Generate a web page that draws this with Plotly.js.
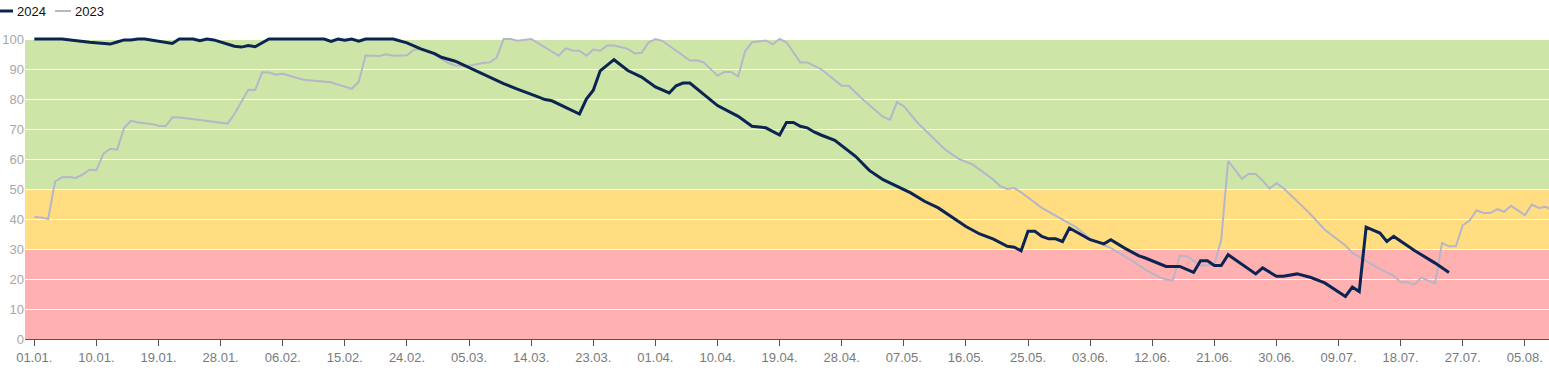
<!DOCTYPE html>
<html>
<head>
<meta charset="utf-8">
<script src="https://cdn.plot.ly/plotly-3.0.1.min.js"></script>
<style>
html,body{margin:0;padding:0;background:#fff;}
#chart{width:1549px;height:370px;}
</style>
</head>
<body>
<div id="chart"></div>
<script>
// Day-of-year axis uses a common (non-leap) year; only day.month. is shown.
// Series 2024
const dates2024 = [
'2023-01-01','2023-01-05','2023-01-09','2023-01-12','2023-01-13','2023-01-14','2023-01-15','2023-01-16','2023-01-17','2023-01-21',
'2023-01-22','2023-01-24','2023-01-25','2023-01-26','2023-01-27','2023-01-30','2023-01-31','2023-02-01','2023-02-02','2023-02-04',
'2023-02-12','2023-02-13','2023-02-14','2023-02-15','2023-02-16','2023-02-17','2023-02-18','2023-02-22','2023-02-24','2023-02-26',
'2023-02-28','2023-03-01','2023-03-03','2023-03-05','2023-03-07','2023-03-09','2023-03-10','2023-03-12','2023-03-14','2023-03-15',
'2023-03-16','2023-03-17','2023-03-21','2023-03-22','2023-03-23','2023-03-24','2023-03-26','2023-03-28','2023-03-30','2023-04-01',
'2023-04-03','2023-04-04','2023-04-05','2023-04-06','2023-04-10','2023-04-13','2023-04-15','2023-04-17','2023-04-19','2023-04-20',
'2023-04-21','2023-04-22','2023-04-23','2023-04-24','2023-04-25','2023-04-27','2023-04-30','2023-05-02','2023-05-04','2023-05-07',
'2023-05-08','2023-05-10','2023-05-12','2023-05-16','2023-05-18','2023-05-20','2023-05-22','2023-05-23','2023-05-24','2023-05-25',
'2023-05-26','2023-05-27','2023-05-28','2023-05-29','2023-05-30','2023-05-31','2023-06-01','2023-06-03','2023-06-05','2023-06-06',
'2023-06-08','2023-06-10','2023-06-11','2023-06-13','2023-06-14','2023-06-16','2023-06-18','2023-06-19','2023-06-20','2023-06-21',
'2023-06-22','2023-06-23','2023-06-27','2023-06-28','2023-06-30','2023-07-01','2023-07-03','2023-07-05','2023-07-07','2023-07-10',
'2023-07-11','2023-07-12','2023-07-13','2023-07-15','2023-07-16','2023-07-17','2023-07-20','2023-07-23','2023-07-25'
];
const values2024 = [
100,100,98.9,98.3,99,99.7,99.7,100,100,98.5,
100,100,99.4,100,99.7,97.6,97.3,97.8,97.4,100,
100,99.2,100,99.6,100,99.3,100,100,98.7,96.7,
95.1,93.9,92.6,90.5,88.5,86.4,85.1,83.3,81.4,80.7,
79.8,79.4,75,80,82.9,89.4,93.1,89.5,87.3,84,
82,84.4,85.3,85.3,77.8,74.2,70.9,70.4,68,72.2,
72.2,70.9,70.4,69,68,66.2,60.9,56.2,53.1,50,
48.7,45.9,43.7,37.5,35,33.3,30.9,30.6,29.4,35.9,
35.9,34.2,33.4,33.4,32.5,37,35.7,33.1,31.7,33.1,
30.3,27.8,27,25.3,24.2,24.2,22.2,26.1,26.1,24.5,
24.5,28.1,21.7,23.7,20.9,20.9,21.7,20.5,18.7,14.2,
17.3,15.8,37.3,35.3,32.5,34.2,29.5,25.3,22.2
];

// Series 2023
const dates2023 = [
'2023-01-01','2023-01-02','2023-01-03','2023-01-04','2023-01-05','2023-01-06','2023-01-07','2023-01-08','2023-01-09','2023-01-10',
'2023-01-11','2023-01-12','2023-01-13','2023-01-14','2023-01-15','2023-01-16','2023-01-17','2023-01-18','2023-01-19','2023-01-20',
'2023-01-21','2023-01-22','2023-01-25','2023-01-27','2023-01-29','2023-01-30','2023-01-31','2023-02-01','2023-02-02','2023-02-03',
'2023-02-04','2023-02-05','2023-02-06','2023-02-07','2023-02-09','2023-02-11','2023-02-13','2023-02-14','2023-02-16','2023-02-17',
'2023-02-18','2023-02-20','2023-02-21','2023-02-22','2023-02-24','2023-02-25','2023-02-26','2023-02-28','2023-03-02','2023-03-03',
'2023-03-05','2023-03-07','2023-03-08','2023-03-09','2023-03-10','2023-03-11','2023-03-12','2023-03-14','2023-03-18','2023-03-19',
'2023-03-20','2023-03-21','2023-03-22','2023-03-23','2023-03-24','2023-03-25','2023-03-26','2023-03-28','2023-03-29','2023-03-30',
'2023-03-31','2023-04-01','2023-04-02','2023-04-06','2023-04-07','2023-04-08','2023-04-10','2023-04-11','2023-04-12','2023-04-13',
'2023-04-14','2023-04-15','2023-04-17','2023-04-18','2023-04-19','2023-04-20','2023-04-22','2023-04-23','2023-04-25','2023-04-28',
'2023-04-29','2023-05-01','2023-05-02','2023-05-04','2023-05-05','2023-05-06','2023-05-07','2023-05-09','2023-05-13','2023-05-15',
'2023-05-17','2023-05-20','2023-05-21','2023-05-22','2023-05-23','2023-05-24','2023-05-27','2023-06-01','2023-06-03','2023-06-06',
'2023-06-09','2023-06-11','2023-06-13','2023-06-14','2023-06-15','2023-06-16','2023-06-17','2023-06-18','2023-06-19','2023-06-21',
'2023-06-22','2023-06-23','2023-06-24','2023-06-25','2023-06-26','2023-06-27','2023-06-28','2023-06-29','2023-06-30','2023-07-01',
'2023-07-04','2023-07-05','2023-07-07','2023-07-09','2023-07-10','2023-07-11','2023-07-13','2023-07-15','2023-07-17','2023-07-18',
'2023-07-19','2023-07-20','2023-07-21','2023-07-22','2023-07-23','2023-07-24','2023-07-25','2023-07-26','2023-07-27','2023-07-28',
'2023-07-29','2023-07-30','2023-07-31','2023-08-01','2023-08-02','2023-08-03','2023-08-04','2023-08-05','2023-08-06','2023-08-07',
'2023-08-08','2023-08-09'
];
const values2023 = [
40.7,40.5,40,52.5,53.9,54,53.7,54.8,56.4,56.3,
61.8,63.4,63.1,70.3,72.8,72.2,71.9,71.7,71.1,70.9,
73.9,73.8,73,72.5,71.8,75,79,83.1,83,88.9,
88.8,88.1,88.4,87.7,86.4,86,85.6,84.8,83.4,85.7,
94.5,94.3,94.9,94.4,94.6,96.4,96.7,94.8,92,91.2,
91.1,92,92.2,93.8,100,100,99.4,100,94.4,96.9,
96.2,96.1,94.4,96.5,96.1,97.8,97.8,96.7,95.2,95.4,
98.8,100,99.4,92.8,92.9,92.2,87.8,89,89,87.5,
95.9,98.9,99.5,98.2,100,98.9,92.2,92.2,90,84.4,
84.4,80,78.1,74,73.1,78.9,77.6,72.1,63.1,60,
58.1,53.1,50.9,50,50.3,48.9,43.7,37.2,33.4,30.3,
26.2,23.1,20.6,19.8,19.5,27.8,27.6,25.9,24.5,24.7,
33.1,59.4,56.4,53.4,55.1,55,52.8,50.1,52,50.3,
43.7,41.4,36.4,32.8,31.2,28.7,26,23.3,21.1,18.9,
18.9,18.1,20.5,19.4,18.6,32,30.9,30.9,37.9,39.5,
42.9,42,42,43.3,42.4,44.4,42.9,41.2,44.8,43.7,
44.1,42.9
];

// Traffic-light bands
const bandLow = [0, 30, 50];
const bandHigh = [30, 50, 100];
const bandColors = ['#ffb0b0', '#ffdd80', '#cde6a8'];

const seriesNames = ['2024', '2023'];
const seriesColors = ['#0b2452', '#b6b6c9'];

const W = 1549, H = 370, ML = 25, MR = 0, MT = 36, MB = 31;
const PW = W - ML - MR, PH = H - MT - MB;
const px2x = p => (p - ML) / PW;
const px2y = p => (H - MB - p) / PH;

const shapes = bandLow.map((lo, i) => ({
  type: 'rect', xref: 'paper', yref: 'y', x0: 0, x1: 1, y0: lo, y1: bandHigh[i],
  fillcolor: bandColors[i], line: {width: 0}, layer: 'below'
}));

// compact legend
const legendY = px2y(11);
shapes.push({type:'line', xref:'paper', yref:'paper', x0: px2x(0), x1: px2x(13), y0: legendY, y1: legendY,
  line:{color: seriesColors[0], width: 3}});
shapes.push({type:'line', xref:'paper', yref:'paper', x0: px2x(55), x1: px2x(71), y0: legendY, y1: legendY,
  line:{color: seriesColors[1], width: 2}});
const annotations = [
  {xref:'paper', yref:'paper', x: px2x(15), y: legendY, xanchor:'left', yanchor:'middle', text: seriesNames[0],
   showarrow:false, font:{size:13, color:'#111'}},
  {xref:'paper', yref:'paper', x: px2x(73), y: legendY, xanchor:'left', yanchor:'middle', text: seriesNames[1],
   showarrow:false, font:{size:13, color:'#111'}}
];

const traces = [
  {x: dates2023, y: values2023, type:'scatter', mode:'lines', name: seriesNames[1],
   line:{color: seriesColors[1], width: 2}, hoverinfo:'skip'},
  {x: dates2024, y: values2024, type:'scatter', mode:'lines', name: seriesNames[0],
   line:{color: seriesColors[0], width: 3}, hoverinfo:'skip'}
];

const layout = {
  width: W, height: H,
  margin: {l: ML, r: MR, t: MT, b: MB, pad: 0},
  paper_bgcolor: '#ffffff', plot_bgcolor: '#ffffff',
  font: {family: 'Liberation Sans, Arial, sans-serif', size: 13, color: '#808080'},
  showlegend: false,
  xaxis: {
    type: 'date',
    range: ['2022-12-30 15:30', '2023-08-08 12:00'],
    tick0: '2023-01-01', dtick: 9 * 86400000,
    tickformat: '%d.%m.',
    ticks: 'outside', ticklen: 6, tickcolor: '#555', tickwidth: 1,
    showline: true, linecolor: '#555', linewidth: 1,
    showgrid: false, zeroline: false,
    tickfont: {size: 13, color: '#7a7a7a'}
  },
  yaxis: {
    range: [0, 101],
    tickvals: [0,10,20,30,40,50,60,70,80,90,100],
    showgrid: true, gridcolor: '#ffffff', gridwidth: 1,
    zeroline: false, showline: false, ticks: '',
    tickfont: {size: 13, color: '#a8a8a8'}
  },
  shapes: shapes,
  annotations: annotations
};

Plotly.newPlot('chart', traces, layout, {staticPlot: true, displayModeBar: false});
</script>
</body>
</html>
